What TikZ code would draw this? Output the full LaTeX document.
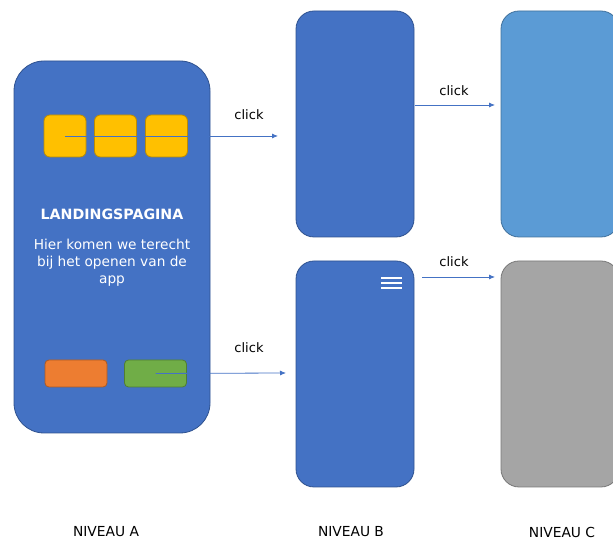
\documentclass[tikz,border=0pt]{standalone}
\usepackage{fontspec}
\setmainfont{DejaVu Sans}
\usepackage{xcolor}
\usetikzlibrary{arrows.meta}

\definecolor{phoneblue}{HTML}{4472C4}
\definecolor{phoneedge}{HTML}{2F528F}
\definecolor{lightblue}{HTML}{5B9BD5}
\definecolor{lightedge}{HTML}{41719C}
\definecolor{greyfill}{HTML}{A5A5A5}
\definecolor{greyedge}{HTML}{787878}
\definecolor{yellowfill}{HTML}{FFC000}
\definecolor{yellowedge}{HTML}{BC8C00}
\definecolor{orangefill}{HTML}{ED7D31}
\definecolor{orangeedge}{HTML}{AE5A21}
\definecolor{greenfill}{HTML}{70AD47}
\definecolor{greenedge}{HTML}{507E32}

\tikzset{
  screen/.style={draw=#1, line width=0.8pt, minimum width=118pt, minimum height=226pt, rounded corners=18pt, inner sep=0pt},
  tile/.style={draw=yellowedge, fill=yellowfill, line width=0.8pt, minimum width=42pt, minimum height=42pt, rounded corners=6pt, inner sep=0pt},
  knop/.style={line width=0.8pt, minimum width=62pt, minimum height=27pt, rounded corners=4pt, inner sep=0pt},
  pijl/.style={draw=phoneblue, line width=0.8pt, -{Latex[length=6pt,width=5pt]}},
  tekst/.style={font=\fontsize{13}{17}\selectfont, inner sep=0pt}
}

\begin{document}
\begin{tikzpicture}[x=1pt, y=1pt]
  \useasboundingbox (0,0) rectangle (613,545);
  \clip (0,0) rectangle (613,545);

  % niveau A
  \node[screen=phoneedge, fill=phoneblue, minimum width=196pt, minimum height=372pt, rounded corners=30pt] (landing) at (112,298) {};
  \node[tile] (tegel1) at (65,409) {};
  \node[tile] (tegel2) at (115.5,409) {};
  \node[tile] (tegel3) at (166.5,409) {};
  \node[tekst, text=white, font=\fontsize{14.2}{17}\selectfont\bfseries] (titel) at (112,331) {LANDINGSPAGINA};
  \node[tekst, text=white, align=center, font=\fontsize{13.7}{17}\selectfont] (uitleg) at (112,282) {Hier komen we terecht\\bij het openen van de\\app};
  \node[knop, draw=orangeedge, fill=orangefill] (oranje) at (76,171.5) {};
  \node[knop, draw=greenedge, fill=greenfill] (groen) at (155.5,171.5) {};

  % niveau B
  \node[screen=phoneedge, fill=phoneblue] (schermB1) at (355,421) {};
  \node[screen=phoneedge, fill=phoneblue] (schermB2) at (355,171) {};
  \coordinate (menu) at (391.5,262);
  \foreach \dy in {-5,0,5}
    \draw[white, line width=2.6pt] ([shift={(-10.5,\dy)}]menu) -- ([shift={(10.5,\dy)}]menu);

  % niveau C
  \node[screen=lightedge, fill=lightblue] (schermC1) at (560,421) {};
  \node[screen=greyedge, fill=greyfill] (schermC2) at (560,171) {};

  % pijlen
  \coordinate (eind1) at (278,409);
  \coordinate (eind2) at (286,172);
  \coordinate (start3) at (414.5,440);
  \coordinate (eind3) at (495,440);
  \coordinate (start4) at (422,268);
  \coordinate (eind4) at (495,268);
  \draw[pijl] (tegel1.center) -- (eind1);
  \draw[pijl] (groen.center) -- (eind2);
  \draw[pijl] (start3) -- (eind3);
  \draw[pijl] (start4) -- (eind4);

  \node[tekst] (klik1) at (249,430) {click};
  \node[tekst] (klik2) at (249,197) {click};
  \node[tekst] (klik3) at (454,454) {click};
  \node[tekst] (klik4) at (454,283) {click};

  \node[tekst, font=\fontsize{13.8}{17}\selectfont] (niveauA) at (106,13) {NIVEAU A};
  \node[tekst, font=\fontsize{13.8}{17}\selectfont] (niveauB) at (351,13) {NIVEAU B};
  \node[tekst, font=\fontsize{13.8}{17}\selectfont] (niveauC) at (562,13) {NIVEAU C};
\end{tikzpicture}
\end{document}
